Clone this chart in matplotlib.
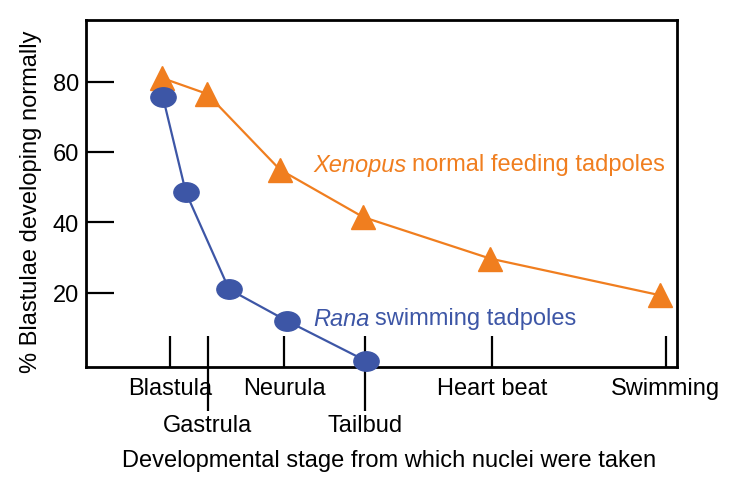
import numpy as np
import matplotlib.pyplot as plt
from matplotlib.markers import MarkerStyle
from matplotlib.transforms import Affine2D

plt.rcParams['font.family'] = ['Liberation Sans', 'DejaVu Sans']

# stage positions along x (arbitrary developmental time units)
stages = ['Blastula', 'Gastrula', 'Neurula', 'Tailbud', 'Heart beat', 'Swimming']
stage_x = [1.42, 2.06, 3.35, 4.72, 6.87, 9.81]
low_labels = ['Gastrula', 'Tailbud']

# Xenopus normal feeding tadpoles
xen_x = [1.29, 2.05, 3.28, 4.69, 6.84, 9.71]
xen_y = [81, 76.5, 55, 41.5, 29.7, 19.3]

# Rana swimming tadpoles
rana_x = [1.30, 1.69, 2.42, 3.40, 4.74]
rana_y = [75.7, 48.5, 21, 12, 0.6]

orange = '#F07E1F'
blue = '#3D56A6'
fs = 17

fig = plt.figure(figsize=(7.3, 4.81), dpi=100)
ax = fig.add_axes([86 / 730, 1 - 368 / 481, 591 / 730, 347 / 481])

ax.plot(xen_x, xen_y, color=orange, lw=1.6, marker='^', ms=17, mec=orange,
        mfc=orange, zorder=3, clip_on=False)
ell = MarkerStyle('o', transform=Affine2D().scale(1.3, 1.0))
ax.plot(rana_x, rana_y, color=blue, lw=1.6, marker=ell, ms=14, mec=blue,
        mfc=blue, zorder=4, clip_on=False)

ax.set_xlim(0, 10)
ax.set_ylim(-1.1, 97.5)

ax.set_yticks([20, 40, 60, 80])
ax.tick_params(axis='y', direction='in', length=20, width=1.6, labelsize=fs, pad=5)

ax.set_xticks(stage_x)
ax.set_xticklabels(stages)
ax.tick_params(axis='x', which='major', direction='in', length=22, width=1.6,
               labelsize=fs, pad=7)
for tick, name in zip(ax.xaxis.get_major_ticks(), stages):
    if name in low_labels:
        tick.set_pad(34)

# longer downward marks for the lower labels
ax.xaxis.remove_overlapping_locs = False
ax.set_xticks([s for s, n in zip(stage_x, stages) if n in low_labels], minor=True)
ax.tick_params(axis='x', which='minor', direction='out', length=32, width=1.6)

for sp in ax.spines.values():
    sp.set_linewidth(2)

t1 = ax.text(3.85, 56.5, 'Xenopus', color=orange, fontsize=fs, va='center',
             fontstyle='italic')
ax.annotate('normal feeding tadpoles', xy=(1, 0.5), xycoords=t1,
            xytext=(4, 0), textcoords='offset points', color=orange,
            fontsize=fs, va='center')
t2 = ax.text(3.85, 12.8, 'Rana', color=blue, fontsize=fs, va='center',
             fontstyle='italic')
ax.annotate('swimming tadpoles', xy=(1, 0.5), xycoords=t2,
            xytext=(4, 0), textcoords='offset points', color=blue,
            fontsize=fs, va='center')

ax.set_ylabel('% Blastulae developing normally', fontsize=fs)
ax.yaxis.set_label_coords(-0.074, 0.48)
fig.text(389 / 730, 1 - 461 / 481, 'Developmental stage from which nuclei were taken',
         fontsize=fs, ha='center', va='center')

fig.savefig('out.png', dpi=100)
